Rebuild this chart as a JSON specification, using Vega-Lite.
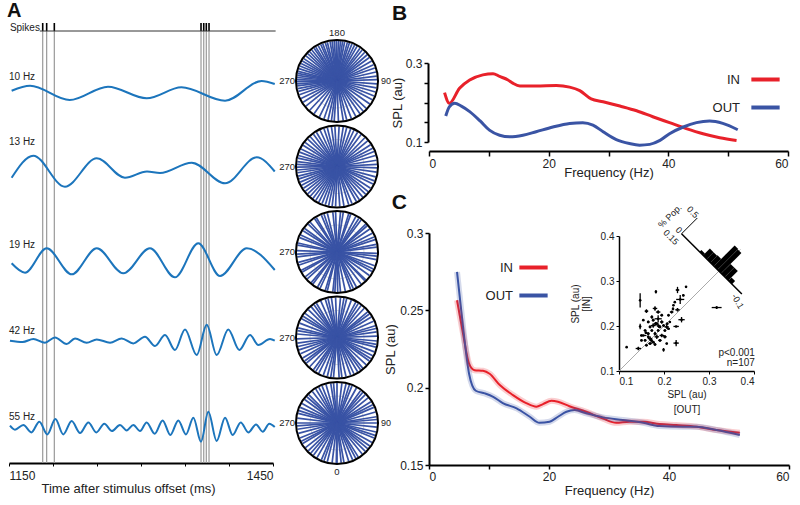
{
"$schema":"https://vega.github.io/schema/vega-lite/v6.json",
"width":800,"height":505,"autosize":"none","padding":0,"background":"white",
"config":{"view":{"stroke":null},"font":"Liberation Sans","axis":{"grid":false,"domain":true,"ticks":true,"domainColor":"#000","domainOpacity":1,"tickColor":"#000","tickOpacity":1,"labelColor":"#222","titleColor":"#222","titleFontWeight":"normal","labelFont":"Liberation Sans","titleFont":"Liberation Sans"},"legend":{"labelFont":"Liberation Sans","labelColor":"#222"},"text":{"font":"Liberation Sans","color":"#222"}},
"datasets":{
"spikes":[{"t":1188.3},{"t":1192.8},{"t":1201.5},{"t":1368.2},{"t":1371.3},{"t":1374.2},{"t":1377.3}],
"waves":[
{"f":"10 Hz","t":1153,"v":0.13},{"f":"10 Hz","t":1174,"v":0.63},{"f":"10 Hz","t":1219,"v":-0.8},{"f":"10 Hz","t":1262.5,"v":0.53},{"f":"10 Hz","t":1306.5,"v":-0.63},{"f":"10 Hz","t":1346,"v":0.47},{"f":"10 Hz","t":1395.5,"v":-0.87},{"f":"10 Hz","t":1437,"v":1.1},{"f":"10 Hz","t":1452,"v":0.8},
{"f":"13 Hz","t":1153,"v":-0.67},{"f":"13 Hz","t":1177.6,"v":1.53},{"f":"13 Hz","t":1213.6,"v":-1.57},{"f":"13 Hz","t":1249.7,"v":1.27},{"f":"13 Hz","t":1281.8,"v":-0.67},{"f":"13 Hz","t":1306.8,"v":-0.05},{"f":"13 Hz","t":1321.6,"v":-0.2},{"f":"13 Hz","t":1357.6,"v":0.83},{"f":"13 Hz","t":1395.5,"v":-1.23},{"f":"13 Hz","t":1431.5,"v":1.37},{"f":"13 Hz","t":1452,"v":-0.05},
{"f":"19 Hz","t":1153,"v":-0.28},{"f":"19 Hz","t":1168.2,"v":-1.22},{"f":"19 Hz","t":1192.8,"v":1.22},{"f":"19 Hz","t":1221.3,"v":-1.38},{"f":"19 Hz","t":1249.7,"v":1.22},{"f":"19 Hz","t":1279.9,"v":-1.28},{"f":"19 Hz","t":1310.2,"v":1.22},{"f":"19 Hz","t":1338.6,"v":-1.68},{"f":"19 Hz","t":1365.1,"v":1.72},{"f":"19 Hz","t":1389.8,"v":-1.55},{"f":"19 Hz","t":1420.1,"v":1.22},{"f":"19 Hz","t":1452,"v":-0.95},
{"f":"42 Hz","t":1151.1,"v":0.0},{"f":"42 Hz","t":1165.5,"v":-0.13},{"f":"42 Hz","t":1177.7,"v":0.17},{"f":"42 Hz","t":1190.9,"v":-0.2},{"f":"42 Hz","t":1202.3,"v":0.33},{"f":"42 Hz","t":1215.5,"v":-0.33},{"f":"42 Hz","t":1225,"v":0.23},{"f":"42 Hz","t":1238.3,"v":-0.2},{"f":"42 Hz","t":1249.7,"v":0.13},{"f":"42 Hz","t":1264.8,"v":-0.2},{"f":"42 Hz","t":1278,"v":0.23},{"f":"42 Hz","t":1291.3,"v":-0.27},{"f":"42 Hz","t":1304.5,"v":0.4},{"f":"42 Hz","t":1315.9,"v":-0.53},{"f":"42 Hz","t":1327.3,"v":0.57},{"f":"42 Hz","t":1338.6,"v":-0.93},{"f":"42 Hz","t":1350,"v":1.13},{"f":"42 Hz","t":1363.3,"v":-1.43},{"f":"42 Hz","t":1374.7,"v":1.6},{"f":"42 Hz","t":1386,"v":-1.43},{"f":"42 Hz","t":1399.2,"v":1.13},{"f":"42 Hz","t":1411.7,"v":-0.93},{"f":"42 Hz","t":1423.9,"v":0.57},{"f":"42 Hz","t":1433.3,"v":-0.43},{"f":"42 Hz","t":1446.6,"v":0.17},{"f":"42 Hz","t":1452,"v":0.0},
{"f":"55 Hz","t":1151.1,"v":0.2},{"f":"55 Hz","t":1156.8,"v":-0.2},{"f":"55 Hz","t":1166.3,"v":0.27},{"f":"55 Hz","t":1175.4,"v":-0.47},{"f":"55 Hz","t":1184.5,"v":0.6},{"f":"55 Hz","t":1193.6,"v":-0.67},{"f":"55 Hz","t":1202.7,"v":0.87},{"f":"55 Hz","t":1211.7,"v":-0.67},{"f":"55 Hz","t":1221.2,"v":0.67},{"f":"55 Hz","t":1230.7,"v":-0.53},{"f":"55 Hz","t":1240.2,"v":0.53},{"f":"55 Hz","t":1249.2,"v":-0.47},{"f":"55 Hz","t":1258.3,"v":0.4},{"f":"55 Hz","t":1267,"v":-0.33},{"f":"55 Hz","t":1276.1,"v":0.27},{"f":"55 Hz","t":1283.7,"v":-0.27},{"f":"55 Hz","t":1291.3,"v":0.27},{"f":"55 Hz","t":1298.9,"v":-0.33},{"f":"55 Hz","t":1306.4,"v":0.53},{"f":"55 Hz","t":1315.5,"v":-0.6},{"f":"55 Hz","t":1324.6,"v":0.73},{"f":"55 Hz","t":1333.3,"v":-0.73},{"f":"55 Hz","t":1342.4,"v":0.73},{"f":"55 Hz","t":1351.1,"v":-0.67},{"f":"55 Hz","t":1359.5,"v":1.0},{"f":"55 Hz","t":1368.2,"v":-1.4},{"f":"55 Hz","t":1376.5,"v":1.6},{"f":"55 Hz","t":1386,"v":-1.33},{"f":"55 Hz","t":1395.5,"v":1.0},{"f":"55 Hz","t":1404.2,"v":-0.73},{"f":"55 Hz","t":1413.3,"v":0.53},{"f":"55 Hz","t":1422,"v":-0.47},{"f":"55 Hz","t":1430.7,"v":0.33},{"f":"55 Hz","t":1438.3,"v":-0.4},{"f":"55 Hz","t":1445.8,"v":0.4},{"f":"55 Hz","t":1452,"v":0.07}
],
"circles":[{"f":"10 Hz"},{"f":"13 Hz"},{"f":"19 Hz"},{"f":"42 Hz"},{"f":"55 Hz"}],
"phases":[
{"f":"10 Hz","p":2},{"f":"10 Hz","p":9},{"f":"10 Hz","p":14},{"f":"10 Hz","p":21},{"f":"10 Hz","p":28},{"f":"10 Hz","p":35},{"f":"10 Hz","p":41},{"f":"10 Hz","p":47},{"f":"10 Hz","p":55},{"f":"10 Hz","p":62},{"f":"10 Hz","p":68},{"f":"10 Hz","p":74},{"f":"10 Hz","p":80},{"f":"10 Hz","p":86},{"f":"10 Hz","p":92},{"f":"10 Hz","p":97},{"f":"10 Hz","p":103},{"f":"10 Hz","p":109},{"f":"10 Hz","p":114},{"f":"10 Hz","p":120},{"f":"10 Hz","p":126},{"f":"10 Hz","p":131},{"f":"10 Hz","p":136},{"f":"10 Hz","p":141},{"f":"10 Hz","p":145},{"f":"10 Hz","p":150},{"f":"10 Hz","p":154},{"f":"10 Hz","p":158},{"f":"10 Hz","p":162},{"f":"10 Hz","p":165},{"f":"10 Hz","p":169},{"f":"10 Hz","p":172},{"f":"10 Hz","p":175},{"f":"10 Hz","p":178},{"f":"10 Hz","p":181},{"f":"10 Hz","p":184},{"f":"10 Hz","p":187},{"f":"10 Hz","p":190},{"f":"10 Hz","p":194},{"f":"10 Hz","p":197},{"f":"10 Hz","p":201},{"f":"10 Hz","p":204},{"f":"10 Hz","p":208},{"f":"10 Hz","p":212},{"f":"10 Hz","p":215},{"f":"10 Hz","p":219},{"f":"10 Hz","p":223},{"f":"10 Hz","p":227},{"f":"10 Hz","p":231},{"f":"10 Hz","p":236},{"f":"10 Hz","p":240},{"f":"10 Hz","p":244},{"f":"10 Hz","p":248},{"f":"10 Hz","p":252},{"f":"10 Hz","p":256},{"f":"10 Hz","p":259},{"f":"10 Hz","p":262},{"f":"10 Hz","p":265},{"f":"10 Hz","p":268},{"f":"10 Hz","p":271},{"f":"10 Hz","p":274},{"f":"10 Hz","p":277},{"f":"10 Hz","p":281},{"f":"10 Hz","p":285},{"f":"10 Hz","p":290},{"f":"10 Hz","p":296},{"f":"10 Hz","p":302},{"f":"10 Hz","p":309},{"f":"10 Hz","p":317},{"f":"10 Hz","p":325},{"f":"10 Hz","p":334},{"f":"10 Hz","p":341},{"f":"10 Hz","p":347},{"f":"10 Hz","p":352},{"f":"10 Hz","p":356},
{"f":"13 Hz","p":4},{"f":"13 Hz","p":10},{"f":"13 Hz","p":17},{"f":"13 Hz","p":22},{"f":"13 Hz","p":29},{"f":"13 Hz","p":34},{"f":"13 Hz","p":40},{"f":"13 Hz","p":46},{"f":"13 Hz","p":51},{"f":"13 Hz","p":57},{"f":"13 Hz","p":64},{"f":"13 Hz","p":69},{"f":"13 Hz","p":75},{"f":"13 Hz","p":82},{"f":"13 Hz","p":88},{"f":"13 Hz","p":93},{"f":"13 Hz","p":99},{"f":"13 Hz","p":106},{"f":"13 Hz","p":112},{"f":"13 Hz","p":117},{"f":"13 Hz","p":123},{"f":"13 Hz","p":130},{"f":"13 Hz","p":136},{"f":"13 Hz","p":143},{"f":"13 Hz","p":149},{"f":"13 Hz","p":155},{"f":"13 Hz","p":160},{"f":"13 Hz","p":166},{"f":"13 Hz","p":171},{"f":"13 Hz","p":177},{"f":"13 Hz","p":183},{"f":"13 Hz","p":188},{"f":"13 Hz","p":194},{"f":"13 Hz","p":199},{"f":"13 Hz","p":205},{"f":"13 Hz","p":211},{"f":"13 Hz","p":216},{"f":"13 Hz","p":222},{"f":"13 Hz","p":227},{"f":"13 Hz","p":233},{"f":"13 Hz","p":238},{"f":"13 Hz","p":244},{"f":"13 Hz","p":249},{"f":"13 Hz","p":254},{"f":"13 Hz","p":258},{"f":"13 Hz","p":263},{"f":"13 Hz","p":267},{"f":"13 Hz","p":271},{"f":"13 Hz","p":275},{"f":"13 Hz","p":279},{"f":"13 Hz","p":284},{"f":"13 Hz","p":288},{"f":"13 Hz","p":293},{"f":"13 Hz","p":298},{"f":"13 Hz","p":303},{"f":"13 Hz","p":308},{"f":"13 Hz","p":313},{"f":"13 Hz","p":318},{"f":"13 Hz","p":323},{"f":"13 Hz","p":328},{"f":"13 Hz","p":333},{"f":"13 Hz","p":338},{"f":"13 Hz","p":343},{"f":"13 Hz","p":348},{"f":"13 Hz","p":353},{"f":"13 Hz","p":358},
{"f":"19 Hz","p":1},{"f":"19 Hz","p":5},{"f":"19 Hz","p":12},{"f":"19 Hz","p":20},{"f":"19 Hz","p":24},{"f":"19 Hz","p":29},{"f":"19 Hz","p":37},{"f":"19 Hz","p":44},{"f":"19 Hz","p":46},{"f":"19 Hz","p":54},{"f":"19 Hz","p":61},{"f":"19 Hz","p":65},{"f":"19 Hz","p":70},{"f":"19 Hz","p":79},{"f":"19 Hz","p":84},{"f":"19 Hz","p":88},{"f":"19 Hz","p":97},{"f":"19 Hz","p":101},{"f":"19 Hz","p":108},{"f":"19 Hz","p":112},{"f":"19 Hz","p":118},{"f":"19 Hz","p":125},{"f":"19 Hz","p":131},{"f":"19 Hz","p":134},{"f":"19 Hz","p":143},{"f":"19 Hz","p":147},{"f":"19 Hz","p":152},{"f":"19 Hz","p":160},{"f":"19 Hz","p":163},{"f":"19 Hz","p":171},{"f":"19 Hz","p":175},{"f":"19 Hz","p":182},{"f":"19 Hz","p":186},{"f":"19 Hz","p":194},{"f":"19 Hz","p":199},{"f":"19 Hz","p":203},{"f":"19 Hz","p":211},{"f":"19 Hz","p":214},{"f":"19 Hz","p":222},{"f":"19 Hz","p":226},{"f":"19 Hz","p":234},{"f":"19 Hz","p":238},{"f":"19 Hz","p":245},{"f":"19 Hz","p":249},{"f":"19 Hz","p":257},{"f":"19 Hz","p":260},{"f":"19 Hz","p":268},{"f":"19 Hz","p":273},{"f":"19 Hz","p":277},{"f":"19 Hz","p":285},{"f":"19 Hz","p":289},{"f":"19 Hz","p":297},{"f":"19 Hz","p":300},{"f":"19 Hz","p":308},{"f":"19 Hz","p":312},{"f":"19 Hz","p":320},{"f":"19 Hz","p":323},{"f":"19 Hz","p":331},{"f":"19 Hz","p":335},{"f":"19 Hz","p":343},{"f":"19 Hz","p":346},{"f":"19 Hz","p":354},{"f":"19 Hz","p":357},
{"f":"42 Hz","p":3},{"f":"42 Hz","p":7},{"f":"42 Hz","p":13},{"f":"42 Hz","p":20},{"f":"42 Hz","p":25},{"f":"42 Hz","p":31},{"f":"42 Hz","p":36},{"f":"42 Hz","p":40},{"f":"42 Hz","p":47},{"f":"42 Hz","p":54},{"f":"42 Hz","p":58},{"f":"42 Hz","p":63},{"f":"42 Hz","p":69},{"f":"42 Hz","p":76},{"f":"42 Hz","p":80},{"f":"42 Hz","p":85},{"f":"42 Hz","p":92},{"f":"42 Hz","p":98},{"f":"42 Hz","p":103},{"f":"42 Hz","p":107},{"f":"42 Hz","p":114},{"f":"42 Hz","p":121},{"f":"42 Hz","p":126},{"f":"42 Hz","p":130},{"f":"42 Hz","p":137},{"f":"42 Hz","p":143},{"f":"42 Hz","p":148},{"f":"42 Hz","p":152},{"f":"42 Hz","p":159},{"f":"42 Hz","p":166},{"f":"42 Hz","p":170},{"f":"42 Hz","p":175},{"f":"42 Hz","p":182},{"f":"42 Hz","p":188},{"f":"42 Hz","p":193},{"f":"42 Hz","p":197},{"f":"42 Hz","p":204},{"f":"42 Hz","p":211},{"f":"42 Hz","p":215},{"f":"42 Hz","p":220},{"f":"42 Hz","p":226},{"f":"42 Hz","p":233},{"f":"42 Hz","p":238},{"f":"42 Hz","p":242},{"f":"42 Hz","p":249},{"f":"42 Hz","p":256},{"f":"42 Hz","p":260},{"f":"42 Hz","p":265},{"f":"42 Hz","p":272},{"f":"42 Hz","p":278},{"f":"42 Hz","p":283},{"f":"42 Hz","p":288},{"f":"42 Hz","p":294},{"f":"42 Hz","p":301},{"f":"42 Hz","p":306},{"f":"42 Hz","p":310},{"f":"42 Hz","p":317},{"f":"42 Hz","p":324},{"f":"42 Hz","p":328},{"f":"42 Hz","p":333},{"f":"42 Hz","p":340},{"f":"42 Hz","p":346},{"f":"42 Hz","p":351},{"f":"42 Hz","p":355},
{"f":"55 Hz","p":0},{"f":"55 Hz","p":6},{"f":"55 Hz","p":10},{"f":"55 Hz","p":17},{"f":"55 Hz","p":23},{"f":"55 Hz","p":28},{"f":"55 Hz","p":32},{"f":"55 Hz","p":39},{"f":"55 Hz","p":45},{"f":"55 Hz","p":50},{"f":"55 Hz","p":55},{"f":"55 Hz","p":61},{"f":"55 Hz","p":68},{"f":"55 Hz","p":72},{"f":"55 Hz","p":77},{"f":"55 Hz","p":84},{"f":"55 Hz","p":90},{"f":"55 Hz","p":95},{"f":"55 Hz","p":99},{"f":"55 Hz","p":106},{"f":"55 Hz","p":113},{"f":"55 Hz","p":117},{"f":"55 Hz","p":122},{"f":"55 Hz","p":129},{"f":"55 Hz","p":135},{"f":"55 Hz","p":140},{"f":"55 Hz","p":144},{"f":"55 Hz","p":151},{"f":"55 Hz","p":158},{"f":"55 Hz","p":162},{"f":"55 Hz","p":167},{"f":"55 Hz","p":173},{"f":"55 Hz","p":180},{"f":"55 Hz","p":185},{"f":"55 Hz","p":189},{"f":"55 Hz","p":196},{"f":"55 Hz","p":202},{"f":"55 Hz","p":207},{"f":"55 Hz","p":212},{"f":"55 Hz","p":218},{"f":"55 Hz","p":225},{"f":"55 Hz","p":229},{"f":"55 Hz","p":234},{"f":"55 Hz","p":241},{"f":"55 Hz","p":247},{"f":"55 Hz","p":252},{"f":"55 Hz","p":256},{"f":"55 Hz","p":263},{"f":"55 Hz","p":270},{"f":"55 Hz","p":274},{"f":"55 Hz","p":279},{"f":"55 Hz","p":285},{"f":"55 Hz","p":292},{"f":"55 Hz","p":297},{"f":"55 Hz","p":301},{"f":"55 Hz","p":308},{"f":"55 Hz","p":314},{"f":"55 Hz","p":319},{"f":"55 Hz","p":324},{"f":"55 Hz","p":330},{"f":"55 Hz","p":337},{"f":"55 Hz","p":341},{"f":"55 Hz","p":346},{"f":"55 Hz","p":353},{"f":"55 Hz","p":359}
],
"specB":[
{"cond":"IN","hz":2.6,"spl":0.225},{"cond":"IN","hz":3.4,"spl":0.198},{"cond":"IN","hz":5.1,"spl":0.236},{"cond":"IN","hz":6.8,"spl":0.257},{"cond":"IN","hz":9.0,"spl":0.27},{"cond":"IN","hz":10.7,"spl":0.273},{"cond":"IN","hz":11.8,"spl":0.266},{"cond":"IN","hz":13.2,"spl":0.257},{"cond":"IN","hz":14.0,"spl":0.249},{"cond":"IN","hz":15.2,"spl":0.242},{"cond":"IN","hz":17.9,"spl":0.242},{"cond":"IN","hz":21.3,"spl":0.243},{"cond":"IN","hz":23.5,"spl":0.239},{"cond":"IN","hz":25.2,"spl":0.23},{"cond":"IN","hz":27.1,"spl":0.209},{"cond":"IN","hz":29.1,"spl":0.202},{"cond":"IN","hz":31.9,"spl":0.191},{"cond":"IN","hz":34.7,"spl":0.179},{"cond":"IN","hz":37.4,"spl":0.164},{"cond":"IN","hz":40.2,"spl":0.149},{"cond":"IN","hz":43.0,"spl":0.134},{"cond":"IN","hz":45.8,"spl":0.121},{"cond":"IN","hz":48.6,"spl":0.111},{"cond":"IN","hz":51.4,"spl":0.104},
{"cond":"OUT","hz":2.8,"spl":0.166},{"cond":"OUT","hz":3.4,"spl":0.189},{"cond":"OUT","hz":4.3,"spl":0.198},{"cond":"OUT","hz":5.4,"spl":0.191},{"cond":"OUT","hz":6.8,"spl":0.177},{"cond":"OUT","hz":8.5,"spl":0.154},{"cond":"OUT","hz":10.1,"spl":0.13},{"cond":"OUT","hz":11.8,"spl":0.117},{"cond":"OUT","hz":13.5,"spl":0.113},{"cond":"OUT","hz":15.7,"spl":0.117},{"cond":"OUT","hz":17.9,"spl":0.126},{"cond":"OUT","hz":20.7,"spl":0.138},{"cond":"OUT","hz":23.5,"spl":0.147},{"cond":"OUT","hz":25.7,"spl":0.149},{"cond":"OUT","hz":27.4,"spl":0.143},{"cond":"OUT","hz":29.1,"spl":0.126},{"cond":"OUT","hz":31.3,"spl":0.106},{"cond":"OUT","hz":33.5,"spl":0.096},{"cond":"OUT","hz":35.2,"spl":0.092},{"cond":"OUT","hz":36.9,"spl":0.094},{"cond":"OUT","hz":38.6,"spl":0.104},{"cond":"OUT","hz":40.2,"spl":0.121},{"cond":"OUT","hz":42.5,"spl":0.138},{"cond":"OUT","hz":44.7,"spl":0.149},{"cond":"OUT","hz":46.9,"spl":0.153},{"cond":"OUT","hz":49.1,"spl":0.147},{"cond":"OUT","hz":51.6,"spl":0.131}
],
"specC":[
{"cond":"IN","hz":4.67,"spl":0.2565},{"cond":"IN","hz":5.67,"spl":0.235},{"cond":"IN","hz":6.67,"spl":0.2156},{"cond":"IN","hz":7.6,"spl":0.2113},{"cond":"IN","hz":9.0,"spl":0.2109},{"cond":"IN","hz":10.1,"spl":0.209},{"cond":"IN","hz":11.8,"spl":0.2017},{"cond":"IN","hz":14.0,"spl":0.1952},{"cond":"IN","hz":16.2,"spl":0.19},{"cond":"IN","hz":17.9,"spl":0.1877},{"cond":"IN","hz":19.0,"spl":0.1894},{"cond":"IN","hz":20.4,"spl":0.1915},{"cond":"IN","hz":21.5,"spl":0.1909},{"cond":"IN","hz":23.4,"spl":0.188},{"cond":"IN","hz":26.2,"spl":0.1844},{"cond":"IN","hz":29.0,"spl":0.18},{"cond":"IN","hz":31.2,"spl":0.1773},{"cond":"IN","hz":33.4,"spl":0.178},{"cond":"IN","hz":35.7,"spl":0.178},{"cond":"IN","hz":38.4,"spl":0.1765},{"cond":"IN","hz":41.2,"spl":0.1758},{"cond":"IN","hz":44.6,"spl":0.1748},{"cond":"IN","hz":47.9,"spl":0.1726},{"cond":"IN","hz":51.8,"spl":0.1709},
{"cond":"OUT","hz":4.67,"spl":0.2748},{"cond":"OUT","hz":5.67,"spl":0.2393},{"cond":"OUT","hz":6.67,"spl":0.2092},{"cond":"OUT","hz":7.8,"spl":0.198},{"cond":"OUT","hz":9.3,"spl":0.1963},{"cond":"OUT","hz":10.7,"spl":0.1941},{"cond":"OUT","hz":12.3,"spl":0.19},{"cond":"OUT","hz":14.6,"spl":0.1866},{"cond":"OUT","hz":16.8,"spl":0.1812},{"cond":"OUT","hz":18.4,"spl":0.1773},{"cond":"OUT","hz":20.1,"spl":0.178},{"cond":"OUT","hz":21.5,"spl":0.1812},{"cond":"OUT","hz":22.9,"spl":0.1844},{"cond":"OUT","hz":24.3,"spl":0.1855},{"cond":"OUT","hz":26.2,"spl":0.1834},{"cond":"OUT","hz":29.0,"spl":0.1808},{"cond":"OUT","hz":32.3,"spl":0.1791},{"cond":"OUT","hz":35.7,"spl":0.1773},{"cond":"OUT","hz":38.4,"spl":0.1752},{"cond":"OUT","hz":42.3,"spl":0.1748},{"cond":"OUT","hz":44.6,"spl":0.1748},{"cond":"OUT","hz":47.9,"spl":0.1726},{"cond":"OUT","hz":51.8,"spl":0.1694}
],
"pts":[
{"o":0.117,"i":0.153,"eo":0.001,"ei":0.001},{"o":0.143,"i":0.15,"eo":0.006,"ei":0.004},{"o":0.147,"i":0.257,"eo":0.001,"ei":0.016},{"o":0.182,"i":0.276,"eo":0.001,"ei":0.004},{"o":0.23,"i":0.28,"eo":0.004,"ei":0.007},{"o":0.236,"i":0.259,"eo":0.009,"ei":0.01},{"o":0.249,"i":0.287,"eo":0.001,"ei":0.002},{"o":0.317,"i":0.241,"eo":0.011,"ei":0.003},{"o":0.227,"i":0.162,"eo":0.006,"ei":0.007},{"o":0.239,"i":0.214,"eo":0.007,"ei":0.006},{"o":0.227,"i":0.199,"eo":0.006,"ei":0.001},{"o":0.199,"i":0.147,"eo":0.001,"ei":0.004},{"o":0.23,"i":0.236,"eo":0.005,"ei":0.004},{"o":0.217,"i":0.231,"eo":0.004,"ei":0.003},{"o":0.21,"i":0.224,"eo":0.002,"ei":0.003},{"o":0.221,"i":0.246,"eo":0.001,"ei":0.002},{"o":0.154,"i":0.213,"eo":0.002,"ei":0.002},{"o":0.161,"i":0.233,"eo":0.004,"ei":0.004},{"o":0.18,"i":0.239,"eo":0.005,"ei":0.005},{"o":0.187,"i":0.231,"eo":0.005,"ei":0.004},{"o":0.187,"i":0.216,"eo":0.008,"ei":0.008},{"o":0.195,"i":0.209,"eo":0.004,"ei":0.004},{"o":0.176,"i":0.201,"eo":0.005,"ei":0.005},{"o":0.169,"i":0.198,"eo":0.003,"ei":0.003},{"o":0.147,"i":0.199,"eo":0.001,"ei":0.006},{"o":0.154,"i":0.179,"eo":0.007,"ei":0.001},{"o":0.165,"i":0.183,"eo":0.003,"ei":0.003},{"o":0.169,"i":0.172,"eo":0.005,"ei":0.005},{"o":0.158,"i":0.168,"eo":0.003,"ei":0.002},{"o":0.176,"i":0.164,"eo":0.004,"ei":0.003},{"o":0.184,"i":0.176,"eo":0.005,"ei":0.005},{"o":0.195,"i":0.179,"eo":0.005,"ei":0.004},{"o":0.202,"i":0.176,"eo":0.004,"ei":0.004},{"o":0.187,"i":0.19,"eo":0.003,"ei":0.003},{"o":0.18,"i":0.183,"eo":0.003,"ei":0.004},{"o":0.206,"i":0.198,"eo":0.005,"ei":0.004},{"o":0.199,"i":0.201,"eo":0.003,"ei":0.003},{"o":0.21,"i":0.194,"eo":0.003,"ei":0.002},{"o":0.161,"i":0.157,"eo":0.003,"ei":0.002},{"o":0.169,"i":0.161,"eo":0.004,"ei":0.003},{"o":0.18,"i":0.159,"eo":0.003,"ei":0.003},{"o":0.191,"i":0.168,"eo":0.004,"ei":0.003},{"o":0.206,"i":0.161,"eo":0.002,"ei":0.002},{"o":0.173,"i":0.19,"eo":0.003,"ei":0.003},{"o":0.165,"i":0.176,"eo":0.002,"ei":0.003},{"o":0.158,"i":0.19,"eo":0.003,"ei":0.002},{"o":0.15,"i":0.179,"eo":0.002,"ei":0.002},{"o":0.176,"i":0.213,"eo":0.003,"ei":0.003},{"o":0.184,"i":0.205,"eo":0.004,"ei":0.004},{"o":0.191,"i":0.198,"eo":0.003,"ei":0.003},{"o":0.213,"i":0.209,"eo":0.002,"ei":0.002},{"o":0.243,"i":0.268,"eo":0.002,"ei":0.002},{"o":0.224,"i":0.253,"eo":0.002,"ei":0.002},{"o":0.202,"i":0.19,"eo":0.003,"ei":0.003},{"o":0.195,"i":0.224,"eo":0.003,"ei":0.003},{"o":0.173,"i":0.22,"eo":0.003,"ei":0.004},{"o":0.165,"i":0.209,"eo":0.003,"ei":0.003},{"o":0.15,"i":0.168,"eo":0.002,"ei":0.002},{"o":0.172,"i":0.168,"eo":0.003,"ei":0.003},{"o":0.188,"i":0.2,"eo":0.004,"ei":0.004},{"o":0.16,"i":0.185,"eo":0.003,"ei":0.003},{"o":0.207,"i":0.205,"eo":0.003,"ei":0.003},{"o":0.181,"i":0.205,"eo":0.003,"ei":0.004},{"o":0.22,"i":0.238,"eo":0.002,"ei":0.003}
],
"hist":[
{"o0":0.283,"i0":0.361,"o1":0.287,"i1":0.365},{"o0":0.291,"i0":0.353,"o1":0.306,"i1":0.368},{"o0":0.299,"i0":0.345,"o1":0.314,"i1":0.36},{"o0":0.307,"i0":0.337,"o1":0.323,"i1":0.353},{"o0":0.315,"i0":0.329,"o1":0.361,"i1":0.375},{"o0":0.323,"i0":0.321,"o1":0.368,"i1":0.366},{"o0":0.331,"i0":0.313,"o1":0.352,"i1":0.334},{"o0":0.339,"i0":0.305,"o1":0.36,"i1":0.326},{"o0":0.347,"i0":0.297,"o1":0.354,"i1":0.304}
]
},
"layer":[
  {"data":{"name":"spikes"},"mark":{"type":"rule","color":"#999","strokeWidth":1.2},"encoding":{"x":{"field":"t","type":"quantitative","scale":{"domain":[1150,1450],"range":[9,273]},"axis":{"orient":"bottom","offset":-42,"values":[1150,1200,1250,1300,1350,1400,1450],"format":"d","labelExpr":"datum.value === 1150 || datum.value === 1450 ? datum.label : ''","labelFlush":true,"labelFontSize":12,"tickSize":3,"labelPadding":4,"domain":true,"domainColor":"#000","domainWidth":2,"title":"Time after stimulus offset (ms)","titleFontSize":13,"titlePadding":1,"titleX":128}},"y":{"datum":0,"type":"quantitative","scale":{"domain":[0,1],"range":[463,31]},"axis":null},"y2":{"datum":1}}},
  {"data":{"name":"spikes"},"mark":{"type":"rule","color":"#000","strokeWidth":1.6},"encoding":{"x":{"field":"t","type":"quantitative","scale":{"domain":[1150,1450],"range":[9,273]},"axis":null},"y":{"datum":1,"type":"quantitative","scale":{"domain":[0,1],"range":[463,31]},"axis":null},"y2":{"datum":1.0185}}},
  {"data":{"values":[{}]},"mark":{"type":"rule","color":"#333","strokeWidth":1},"encoding":{"x":{"datum":1185,"type":"quantitative","scale":{"domain":[1150,1450],"range":[9,273]},"axis":null},"x2":{"datum":1453},"y":{"datum":1,"type":"quantitative","scale":{"domain":[0,1],"range":[463,31]},"axis":null}}},
  {"data":{"values":[{}]},"mark":{"type":"text","text":"Spikes","align":"left","baseline":"middle","fontSize":10},"encoding":{"x":{"datum":1151,"type":"quantitative","scale":{"domain":[1150,1450],"range":[9,273]},"axis":null},"y":{"datum":1.0065,"type":"quantitative","scale":{"domain":[0,1],"range":[463,31]},"axis":null}}},
  {"data":{"values":[{}]},"mark":{"type":"text","text":"A","align":"left","baseline":"alphabetic","fontSize":20,"fontWeight":"bold","color":"#111"},"encoding":{"x":{"datum":1147.7,"type":"quantitative","scale":{"domain":[1150,1450],"range":[9,273]},"axis":null},"y":{"datum":1.032,"type":"quantitative","scale":{"domain":[0,1],"range":[463,31]},"axis":null}}},
  {"data":{"name":"waves"},"transform":[{"filter":"datum.f === '10 Hz'"}],"mark":{"type":"line","interpolate":"monotone","color":"#1c75bc","strokeWidth":2},"encoding":{"x":{"field":"t","type":"quantitative","scale":{"domain":[1150,1450],"range":[9,273]},"axis":null},"y":{"field":"v","type":"quantitative","scale":{"domain":[-1,1],"range":[102,82]},"axis":null}}},
  {"data":{"values":[{}]},"mark":{"type":"text","text":"10 Hz","align":"left","baseline":"middle","fontSize":10},"encoding":{"x":{"datum":1150,"type":"quantitative","scale":{"domain":[1150,1450],"range":[9,273]},"axis":null},"y":{"datum":1.5,"type":"quantitative","scale":{"domain":[-1,1],"range":[102,82]},"axis":null}}},
  {"data":{"name":"waves"},"transform":[{"filter":"datum.f === '13 Hz'"}],"mark":{"type":"line","interpolate":"monotone","color":"#1c75bc","strokeWidth":2},"encoding":{"x":{"field":"t","type":"quantitative","scale":{"domain":[1150,1450],"range":[9,273]},"axis":null},"y":{"field":"v","type":"quantitative","scale":{"domain":[-1,1],"range":[181,161]},"axis":null}}},
  {"data":{"values":[{}]},"mark":{"type":"text","text":"13 Hz","align":"left","baseline":"middle","fontSize":10},"encoding":{"x":{"datum":1150,"type":"quantitative","scale":{"domain":[1150,1450],"range":[9,273]},"axis":null},"y":{"datum":2.9,"type":"quantitative","scale":{"domain":[-1,1],"range":[181,161]},"axis":null}}},
  {"data":{"name":"waves"},"transform":[{"filter":"datum.f === '19 Hz'"}],"mark":{"type":"line","interpolate":"monotone","color":"#1c75bc","strokeWidth":2},"encoding":{"x":{"field":"t","type":"quantitative","scale":{"domain":[1150,1450],"range":[9,273]},"axis":null},"y":{"field":"v","type":"quantitative","scale":{"domain":[-1,1],"range":[270.5,250.5]},"axis":null}}},
  {"data":{"values":[{}]},"mark":{"type":"text","text":"19 Hz","align":"left","baseline":"middle","fontSize":10},"encoding":{"x":{"datum":1150,"type":"quantitative","scale":{"domain":[1150,1450],"range":[9,273]},"axis":null},"y":{"datum":1.55,"type":"quantitative","scale":{"domain":[-1,1],"range":[270.5,250.5]},"axis":null}}},
  {"data":{"name":"waves"},"transform":[{"filter":"datum.f === '42 Hz'"}],"mark":{"type":"line","interpolate":"monotone","color":"#1c75bc","strokeWidth":2},"encoding":{"x":{"field":"t","type":"quantitative","scale":{"domain":[1150,1450],"range":[9,273]},"axis":null},"y":{"field":"v","type":"quantitative","scale":{"domain":[-1,1],"range":[350.7,330.7]},"axis":null}}},
  {"data":{"values":[{}]},"mark":{"type":"text","text":"42 Hz","align":"left","baseline":"middle","fontSize":10},"encoding":{"x":{"datum":1150,"type":"quantitative","scale":{"domain":[1150,1450],"range":[9,273]},"axis":null},"y":{"datum":1.0,"type":"quantitative","scale":{"domain":[-1,1],"range":[350.7,330.7]},"axis":null}}},
  {"data":{"name":"waves"},"transform":[{"filter":"datum.f === '55 Hz'"}],"mark":{"type":"line","interpolate":"monotone","color":"#1c75bc","strokeWidth":2},"encoding":{"x":{"field":"t","type":"quantitative","scale":{"domain":[1150,1450],"range":[9,273]},"axis":null},"y":{"field":"v","type":"quantitative","scale":{"domain":[-1,1],"range":[437.7,417.7]},"axis":null}}},
  {"data":{"values":[{}]},"mark":{"type":"text","text":"55 Hz","align":"left","baseline":"middle","fontSize":10},"encoding":{"x":{"datum":1150,"type":"quantitative","scale":{"domain":[1150,1450],"range":[9,273]},"axis":null},"y":{"datum":1.1,"type":"quantitative","scale":{"domain":[-1,1],"range":[437.7,417.7]},"axis":null}}},

  {"data":{"name":"circles"},"mark":{"type":"arc","theta":0,"theta2":6.2832,"outerRadius":13.5,"innerRadius":0,"filled":false,"color":"#cfcfcf","strokeWidth":0.8},"encoding":{"x":{"datum":0,"type":"quantitative","scale":{"domain":[-1,1],"range":[296,378]},"axis":null},"y":{"field":"f","type":"ordinal","scale":{"type":"point","domain":["10 Hz","13 Hz","19 Hz","42 Hz","55 Hz"],"range":[81,423],"padding":0},"axis":null}}},
  {"data":{"name":"circles"},"mark":{"type":"arc","theta":0,"theta2":6.2832,"outerRadius":27,"innerRadius":0,"filled":false,"color":"#cfcfcf","strokeWidth":0.8},"encoding":{"x":{"datum":0,"type":"quantitative","scale":{"domain":[-1,1],"range":[296,378]},"axis":null},"y":{"field":"f","type":"ordinal","scale":{"type":"point","domain":["10 Hz","13 Hz","19 Hz","42 Hz","55 Hz"],"range":[81,423],"padding":0},"axis":null}}},
  {"data":{"name":"phases"},"mark":{"type":"arc","outerRadius":40,"innerRadius":0,"filled":false,"color":"#3953a5","strokeWidth":1.7},"encoding":{"x":{"datum":0,"type":"quantitative","scale":{"domain":[-1,1],"range":[296,378]},"axis":null},"y":{"field":"f","type":"ordinal","scale":{"type":"point","domain":["10 Hz","13 Hz","19 Hz","42 Hz","55 Hz"],"range":[81,423],"padding":0},"axis":null},"theta":{"field":"p","type":"quantitative","stack":null,"scale":{"domain":[180,-180],"range":[0,6.28318]}},"theta2":{"field":"p"}}},
  {"data":{"name":"circles"},"mark":{"type":"arc","theta":0,"theta2":6.2832,"outerRadius":41,"innerRadius":0,"filled":false,"color":"#000","strokeWidth":2},"encoding":{"x":{"datum":0,"type":"quantitative","scale":{"domain":[-1,1],"range":[296,378]},"axis":null},"y":{"field":"f","type":"ordinal","scale":{"type":"point","domain":["10 Hz","13 Hz","19 Hz","42 Hz","55 Hz"],"range":[81,423],"padding":0},"axis":null}}},
  {"data":{"name":"circles"},"mark":{"type":"text","text":"270","align":"right","baseline":"middle","dx":-42,"fontSize":9.5},"encoding":{"x":{"datum":0,"type":"quantitative","scale":{"domain":[-1,1],"range":[296,378]},"axis":null},"y":{"field":"f","type":"ordinal","scale":{"type":"point","domain":["10 Hz","13 Hz","19 Hz","42 Hz","55 Hz"],"range":[81,423],"padding":0},"axis":null}}},
  {"data":{"name":"circles"},"transform":[{"filter":"datum.f === '10 Hz'"}],"mark":{"type":"text","text":"180","align":"center","baseline":"middle","dy":-48,"fontSize":9.5},"encoding":{"x":{"datum":0,"type":"quantitative","scale":{"domain":[-1,1],"range":[296,378]},"axis":null},"y":{"field":"f","type":"ordinal","scale":{"type":"point","domain":["10 Hz","13 Hz","19 Hz","42 Hz","55 Hz"],"range":[81,423],"padding":0},"axis":null}}},
  {"data":{"name":"circles"},"transform":[{"filter":"datum.f === '10 Hz' || datum.f === '55 Hz'"}],"mark":{"type":"text","text":"90","align":"left","baseline":"middle","dx":44,"fontSize":9},"encoding":{"x":{"datum":0,"type":"quantitative","scale":{"domain":[-1,1],"range":[296,378]},"axis":null},"y":{"field":"f","type":"ordinal","scale":{"type":"point","domain":["10 Hz","13 Hz","19 Hz","42 Hz","55 Hz"],"range":[81,423],"padding":0},"axis":null}}},
  {"data":{"name":"circles"},"transform":[{"filter":"datum.f === '55 Hz'"}],"mark":{"type":"text","text":"0","align":"center","baseline":"middle","dy":49,"fontSize":9.5},"encoding":{"x":{"datum":0,"type":"quantitative","scale":{"domain":[-1,1],"range":[296,378]},"axis":null},"y":{"field":"f","type":"ordinal","scale":{"type":"point","domain":["10 Hz","13 Hz","19 Hz","42 Hz","55 Hz"],"range":[81,423],"padding":0},"axis":null}}},

  {"data":{"name":"specB"},"mark":{"type":"line","interpolate":"monotone","strokeWidth":3},"encoding":{
   "x":{"field":"hz","type":"quantitative","scale":{"domain":[0,60],"range":[429,788]},"axis":{"orient":"bottom","offset":-354,"values":[0,10,20,30,40,50,60],"labelExpr":"datum.value % 20 === 0 ? datum.label : ''","labelFontSize":12,"tickSize":5,"labelPadding":2,"domain":true,"domainColor":"#000","domainWidth":2,"tickWidth":1.5,"title":"Frequency (Hz)","titleFontSize":13,"titlePadding":-3}},
   "y":{"field":"spl","type":"quantitative","scale":{"domain":[0.1,0.3],"range":[142,63]},"axis":{"orient":"left","offset":-428,"values":[0.1,0.15,0.2,0.25,0.3],"labelExpr":"datum.value === 0.1 || datum.value === 0.3 ? format(datum.value, '~g') : ''","labelFontSize":12,"tickSize":4,"labelPadding":2,"domain":true,"domainColor":"#000","domainWidth":2,"tickWidth":1.5,"title":"SPL (au)","titleFontSize":13,"titlePadding":1}},
   "color":{"field":"cond","type":"nominal","scale":{"domain":["IN","OUT"],"range":["#e8212a","#3a54a4"]},"legend":{"orient":"none","legendX":749,"legendY":63,"title":null,"symbolType":"stroke","symbolSize":800,"symbolStrokeWidth":4,"symbolOpacity":1,"labelFontSize":13,"labelAlign":"right","labelOffset":-42,"rowPadding":3,"padding":0}}}},
  {"data":{"values":[{}]},"mark":{"type":"text","text":"B","align":"left","baseline":"middle","fontSize":21,"fontWeight":"bold","color":"#111"},"encoding":{"x":{"datum":-6.2,"type":"quantitative","scale":{"domain":[0,60],"range":[429,788]},"axis":null},"y":{"datum":0.424,"type":"quantitative","scale":{"domain":[0.1,0.3],"range":[142,63]},"axis":null}}},

  {"data":{"name":"specC"},"mark":{"type":"line","interpolate":"monotone","strokeWidth":2},"encoding":{
   "x":{"field":"hz","type":"quantitative","scale":{"domain":[0,60],"range":[429,789]},"axis":{"orient":"bottom","offset":-40,"values":[0,10,20,30,40,50,60],"labelExpr":"datum.value % 20 === 0 ? datum.label : ''","labelFontSize":12,"tickSize":4,"labelPadding":2,"domain":true,"domainColor":"#000","domainWidth":2,"tickWidth":1.5,"title":"Frequency (Hz)","titleFontSize":13,"titlePadding":2}},
   "y":{"field":"spl","type":"quantitative","scale":{"domain":[0.15,0.3],"range":[465,233]},"axis":{"orient":"left","offset":-429,"values":[0.15,0.2,0.25,0.3],"labelExpr":"format(datum.value, '~g')","labelFontSize":12,"tickSize":4,"labelPadding":2,"domain":true,"domainColor":"#000","domainWidth":2,"tickWidth":1.5,"title":"SPL (au)","titleFontSize":13,"titlePadding":2}},
   "color":{"field":"cond","type":"nominal","scale":{"domain":["IN","OUT"],"range":["#e8212a","#3a54a4"]},"legend":{"orient":"none","legendX":517,"legendY":251,"title":null,"symbolType":"stroke","symbolSize":800,"symbolStrokeWidth":4,"symbolOpacity":1,"labelFontSize":13,"labelAlign":"right","labelOffset":-37,"rowPadding":3,"padding":0}}}},
  {"data":{"name":"specC"},"mark":{"type":"line","interpolate":"monotone","strokeWidth":6,"opacity":0.22},"encoding":{
   "x":{"field":"hz","type":"quantitative","scale":{"domain":[0,60],"range":[429,789]},"axis":null},
   "y":{"field":"spl","type":"quantitative","scale":{"domain":[0.15,0.3],"range":[465,233]},"axis":null},
   "color":{"field":"cond","type":"nominal","scale":{"domain":["IN","OUT"],"range":["#e8212a","#3a54a4"]},"legend":null}}},
  {"data":{"values":[{}]},"mark":{"type":"text","text":"C","align":"left","baseline":"middle","fontSize":21,"fontWeight":"bold","color":"#111"},"encoding":{"x":{"datum":-6.2,"type":"quantitative","scale":{"domain":[0,60],"range":[429,789]},"axis":null},"y":{"datum":0.3194,"type":"quantitative","scale":{"domain":[0.15,0.3],"range":[465,233]},"axis":null}}},

  {"data":{"values":[{}]},"mark":{"type":"rule","color":"#aaa","strokeWidth":1},"encoding":{"x":{"datum":0.1,"type":"quantitative","scale":{"domain":[0.1,0.4],"range":[619,754]},"axis":{"orient":"bottom","offset":-134,"values":[0.1,0.2,0.3,0.4],"format":".1f","labelFontSize":10,"tickSize":3,"labelPadding":2,"domain":true,"domainColor":"#000","domainWidth":1.5,"title":["SPL (au)","[OUT]"],"titleFontSize":10,"titleLineHeight":15,"titlePadding":3}},"y":{"datum":0.1,"type":"quantitative","scale":{"domain":[0.1,0.4],"range":[371,236]},"axis":{"orient":"left","offset":-619,"values":[0.1,0.2,0.3,0.4],"format":".1f","labelFontSize":10,"tickSize":3,"labelPadding":2,"domain":true,"domainColor":"#000","domainWidth":1.5,"title":["SPL (au)","[IN]"],"titleFontSize":10,"titleLineHeight":11,"titlePadding":9}},"x2":{"datum":0.37},"y2":{"datum":0.37}}},
  {"data":{"name":"hist"},"mark":{"type":"rule","color":"#000","strokeWidth":5.1,"strokeCap":"butt"},"encoding":{"x":{"field":"o0","type":"quantitative","scale":{"domain":[0.1,0.4],"range":[619,754]},"axis":null},"y":{"field":"i0","type":"quantitative","scale":{"domain":[0.1,0.4],"range":[371,236]},"axis":null},"x2":{"field":"o1"},"y2":{"field":"i1"}}},
  {"data":{"values":[{}]},"mark":{"type":"rule","color":"#000","strokeWidth":1.5},"encoding":{"x":{"datum":0.239,"type":"quantitative","scale":{"domain":[0.1,0.4],"range":[619,754]},"axis":null},"y":{"datum":0.405,"type":"quantitative","scale":{"domain":[0.1,0.4],"range":[371,236]},"axis":null},"x2":{"datum":0.373},"y2":{"datum":0.271}}},
  {"data":{"values":[{}]},"mark":{"type":"rule","color":"#000","strokeWidth":1},"encoding":{"x":{"datum":0.239,"type":"quantitative","scale":{"domain":[0.1,0.4],"range":[619,754]},"axis":null},"y":{"datum":0.405,"type":"quantitative","scale":{"domain":[0.1,0.4],"range":[371,236]},"axis":null},"x2":{"datum":0.274},"y2":{"datum":0.44}}},
  {"data":{"name":"pts"},"mark":{"type":"errorbar","color":"#000","thickness":1.3},"encoding":{"x":{"field":"o","type":"quantitative","scale":{"domain":[0.1,0.4],"range":[619,754]},"axis":null},"xError":{"field":"eo"},"y":{"field":"i","type":"quantitative","scale":{"domain":[0.1,0.4],"range":[371,236]},"axis":null}}},
  {"data":{"name":"pts"},"mark":{"type":"errorbar","color":"#000","thickness":1.3},"encoding":{"y":{"field":"i","type":"quantitative","scale":{"domain":[0.1,0.4],"range":[371,236]},"axis":null},"yError":{"field":"ei"},"x":{"field":"o","type":"quantitative","scale":{"domain":[0.1,0.4],"range":[619,754]},"axis":null}}},
  {"data":{"name":"pts"},"mark":{"type":"point","filled":true,"size":7,"color":"#000","opacity":1},"encoding":{"x":{"field":"o","type":"quantitative","scale":{"domain":[0.1,0.4],"range":[619,754]},"axis":null},"y":{"field":"i","type":"quantitative","scale":{"domain":[0.1,0.4],"range":[371,236]},"axis":null}}},
  {"data":{"values":[{}]},"mark":{"type":"text","text":"p<0.001","align":"right","baseline":"middle","fontSize":10},"encoding":{"x":{"datum":0.402,"type":"quantitative","scale":{"domain":[0.1,0.4],"range":[619,754]},"axis":null},"y":{"datum":0.139,"type":"quantitative","scale":{"domain":[0.1,0.4],"range":[371,236]},"axis":null}}},
  {"data":{"values":[{}]},"mark":{"type":"text","text":"n=107","align":"right","baseline":"middle","fontSize":10},"encoding":{"x":{"datum":0.402,"type":"quantitative","scale":{"domain":[0.1,0.4],"range":[619,754]},"axis":null},"y":{"datum":0.117,"type":"quantitative","scale":{"domain":[0.1,0.4],"range":[371,236]},"axis":null}}},
  {"data":{"values":[{}]},"mark":{"type":"text","text":"0.15","align":"center","baseline":"middle","fontSize":9,"angle":45},"encoding":{"x":{"datum":0.2156,"type":"quantitative","scale":{"domain":[0.1,0.4],"range":[619,754]},"axis":null},"y":{"datum":0.397,"type":"quantitative","scale":{"domain":[0.1,0.4],"range":[371,236]},"axis":null}}},
  {"data":{"values":[{}]},"mark":{"type":"text","text":"0","align":"center","baseline":"middle","fontSize":9,"angle":45},"encoding":{"x":{"datum":0.233,"type":"quantitative","scale":{"domain":[0.1,0.4],"range":[619,754]},"axis":null},"y":{"datum":0.413,"type":"quantitative","scale":{"domain":[0.1,0.4],"range":[371,236]},"axis":null}}},
  {"data":{"values":[{}]},"mark":{"type":"text","text":"% Pop.","align":"center","baseline":"middle","fontSize":9,"angle":-45},"encoding":{"x":{"datum":0.213,"type":"quantitative","scale":{"domain":[0.1,0.4],"range":[619,754]},"axis":null},"y":{"datum":0.444,"type":"quantitative","scale":{"domain":[0.1,0.4],"range":[371,236]},"axis":null}}},
  {"data":{"values":[{}]},"mark":{"type":"text","text":"0.5","align":"center","baseline":"middle","fontSize":9,"angle":45},"encoding":{"x":{"datum":0.264,"type":"quantitative","scale":{"domain":[0.1,0.4],"range":[619,754]},"axis":null},"y":{"datum":0.453,"type":"quantitative","scale":{"domain":[0.1,0.4],"range":[371,236]},"axis":null}}},
  {"data":{"values":[{}]},"mark":{"type":"text","text":"-0.1","align":"center","baseline":"middle","fontSize":9,"angle":60},"encoding":{"x":{"datum":0.364,"type":"quantitative","scale":{"domain":[0.1,0.4],"range":[619,754]},"axis":null},"y":{"datum":0.255,"type":"quantitative","scale":{"domain":[0.1,0.4],"range":[371,236]},"axis":null}}}
],
"resolve":{"scale":{"x":"independent","y":"independent","color":"independent"},"axis":{"x":"independent","y":"independent"},"legend":{"color":"independent"}}
}
